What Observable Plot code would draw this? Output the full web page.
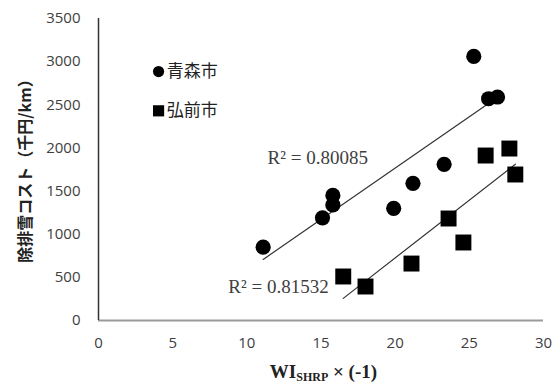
<!DOCTYPE html>
<html><head><meta charset="utf-8">
<script src="https://cdn.jsdelivr.net/npm/d3@7"></script>
<script src="https://cdn.jsdelivr.net/npm/@observablehq/plot@0.6"></script>
<style>body{margin:0;background:#fff}</style>
</head><body><div id="chart"></div>
<script>
// Data
const aomoriX = [11.1, 15.1, 15.8, 15.8, 19.9, 21.2, 23.3, 25.3, 26.3, 26.9];
const aomoriY = [850, 1190, 1340, 1450, 1300, 1590, 1810, 3060, 2570, 2590];
const hirosakiX = [16.5, 18.0, 21.1, 23.6, 24.6, 26.1, 27.7, 28.1];
const hirosakiY = [510, 394, 660, 1182, 904, 1912, 1993, 1692];
const seriesNames = ["青森市", "弘前市"];
const r2Labels = ["R² = 0.80085", "R² = 0.81532"];
const xTicks = [0, 5, 10, 15, 20, 25, 30];
const yTicks = [0, 500, 1000, 1500, 2000, 2500, 3000, 3500];
const yTitle = "除排雪コスト（千円/km）";

const aomori = aomoriX.map((x, i) => ({x, y: aomoriY[i]}));
const hirosaki = hirosakiX.map((x, i) => ({x, y: hirosakiY[i]}));

const sans = "'Open Sans', 'Noto Sans CJK JP', sans-serif";
const jp = "'Noto Sans CJK JP', sans-serif";
const serif = "'Liberation Serif', 'Times New Roman', serif";

const chart = Plot.plot({
  width: 560,
  height: 387,
  marginLeft: 98,
  marginRight: 17,
  marginTop: 18,
  marginBottom: 67,
  style: {fontFamily: sans, background: "#fff", overflow: "visible"},
  x: {domain: [0, 30]},
  y: {domain: [0, 3500]},
  marks: [
    Plot.axisX({ticks: xTicks, tickFormat: d => String(d), tickSize: 0, tickPadding: 17, fontSize: 15, fill: "#404040", label: null}),
    Plot.axisY({ticks: yTicks, tickFormat: d => String(d), tickSize: 0, tickPadding: 18, fontSize: 15, fill: "#404040", label: null}),
    Plot.ruleY([0], {stroke: "#9a9a9a", strokeWidth: 2}),
    Plot.ruleX([0], {y1: 0, y2: 3500, stroke: "#333", strokeWidth: 1.5}),
    Plot.linearRegressionY(aomori, {x: "x", y: "y", ci: 0, stroke: "#333", strokeWidth: 1.2}),
    Plot.linearRegressionY(hirosaki, {x: "x", y: "y", ci: 0, stroke: "#333", strokeWidth: 1.2}),
    Plot.dot(aomori, {x: "x", y: "y", r: 7.6, fill: "#000", symbol: "circle"}),
    Plot.dot(hirosaki, {x: "x", y: "y", r: 9, fill: "#000", symbol: "square"}),
    // R² annotations
    Plot.text([r2Labels[0]], {x: 11.4, y: 1890, text: d => d, textAnchor: "start", fontFamily: serif, fontSize: 19, fill: "#404040"}),
    Plot.text([r2Labels[1]], {x: 8.75, y: 385, text: d => d, textAnchor: "start", fontFamily: serif, fontSize: 19, fill: "#404040"}),
    // legend
    Plot.dot([seriesNames[0]], {x: 4.05, y: 2885, r: 5.6, fill: "#000", symbol: "circle"}),
    Plot.dot([seriesNames[1]], {x: 4.05, y: 2430, r: 6.3, fill: "#000", symbol: "square"}),
    Plot.text([seriesNames[0]], {x: 4.6, y: 2885, text: d => d, textAnchor: "start", fontFamily: jp, fontSize: 17, fill: "#222"}),
    Plot.text([seriesNames[1]], {x: 4.6, y: 2430, text: d => d, textAnchor: "start", fontFamily: jp, fontSize: 17, fill: "#222"})
  ]
});

const svg = d3.select(chart);
const sx = chart.scale("x"), sy = chart.scale("y");
// x-axis title with subscript
const xt = svg.append("text")
  .attr("x", sx.apply(15.2))
  .attr("y", 378)
  .attr("text-anchor", "middle")
  .attr("font-family", serif)
  .attr("font-weight", "bold")
  .attr("font-size", 19)
  .attr("fill", "#222");
xt.append("tspan").text("WI");
xt.append("tspan").attr("font-size", 12).attr("dy", 3).text("SHRP");
xt.append("tspan").attr("dy", -3).text(" × (-1)");
// y-axis title
svg.append("text")
  .attr("transform", `translate(24,${(sy.apply(0) + sy.apply(3500)) / 2 - 2}) rotate(-90)`)
  .attr("text-anchor", "middle")
  .attr("dominant-baseline", "central")
  .attr("font-family", jp)
  .attr("font-weight", "bold")
  .attr("font-size", 16)
  .attr("fill", "#222")
  .text(yTitle);

document.getElementById("chart").appendChild(chart);
</script>
</body></html>
